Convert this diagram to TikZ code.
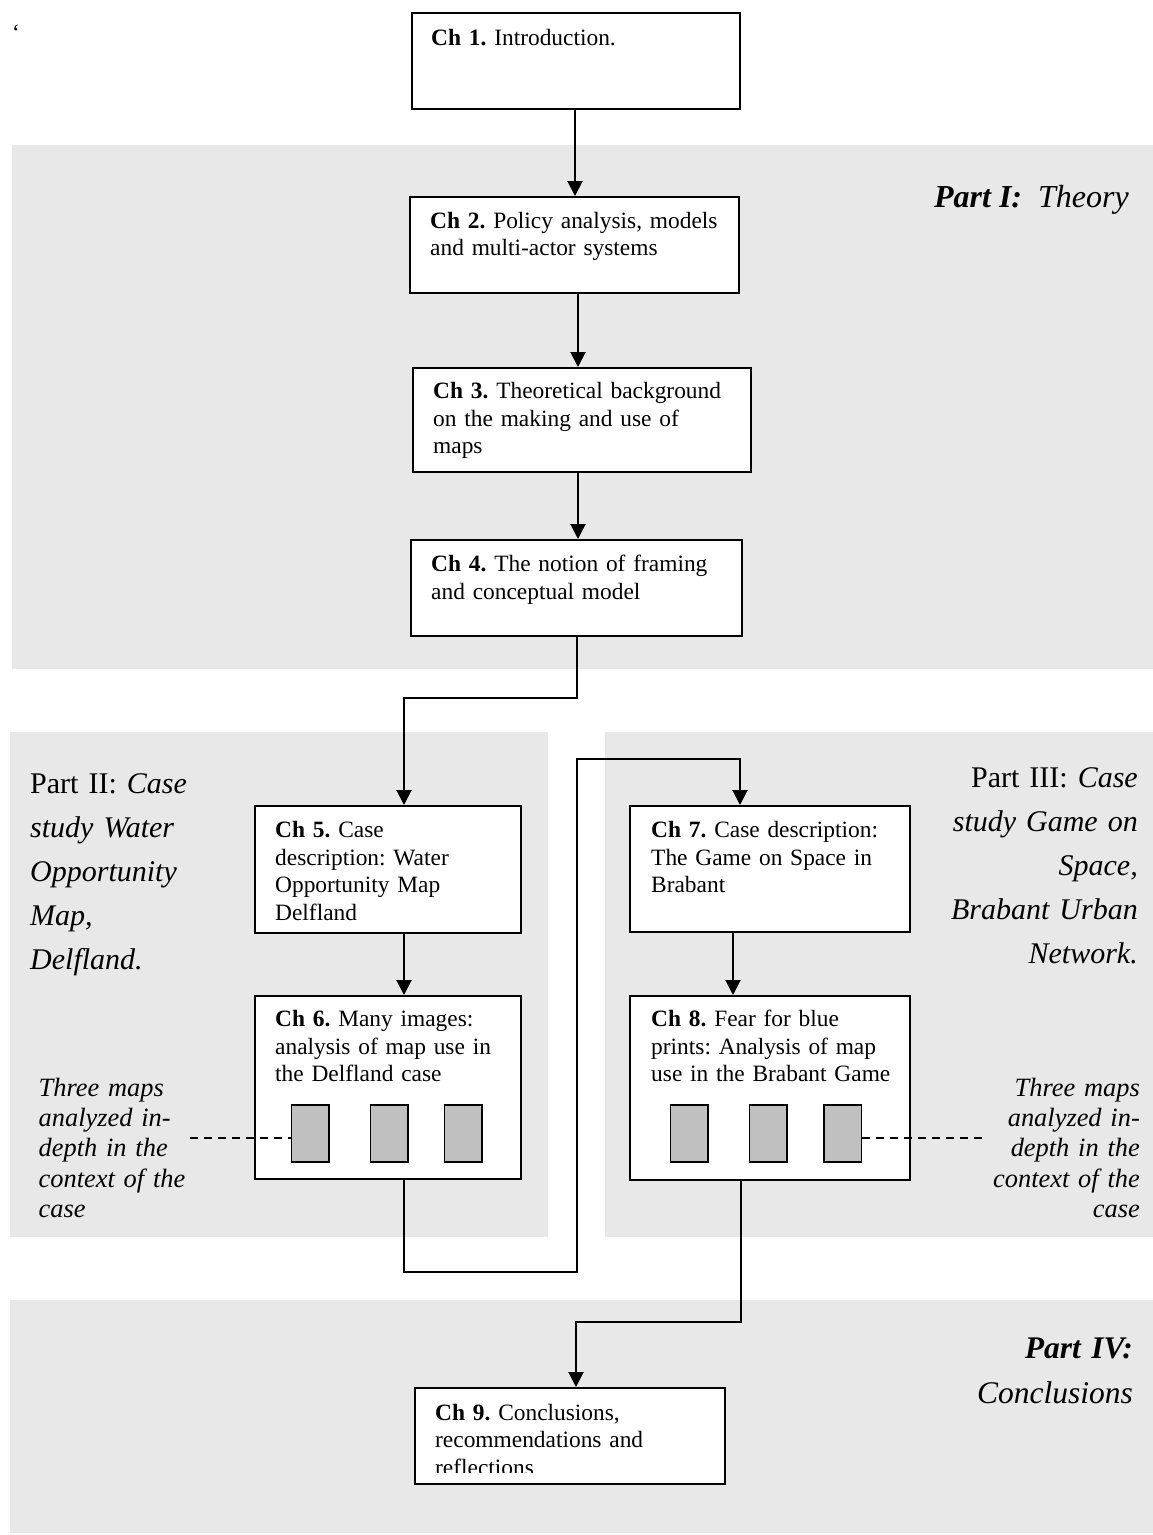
\documentclass[tikz,border=0pt]{standalone}
\usepackage{fontspec}
\setmainfont{Liberation Serif}
\usetikzlibrary{arrows.meta}

\definecolor{bandgrey}{gray}{0.91}
\definecolor{mapgrey}{gray}{0.753}

\newcommand\boxfont{\fontsize{23.4}{27.6}\selectfont\frenchspacing}
\newcommand\partfont{\fontsize{30}{44}\selectfont\frenchspacing}
\newcommand\notefont{\fontsize{26.4}{30.4}\selectfont\frenchspacing}

\tikzset{
  chbox/.style={draw, line width=2pt, fill=white, inner sep=0pt, anchor=north west},
  chtext/.style={inner sep=0pt, anchor=base west, text width=310pt, align=left, font=\boxfont},
  maprect/.style={draw, line width=1.6pt, fill=mapgrey, inner sep=0pt, anchor=north west,
    minimum width=37.5pt, minimum height=57pt},
  conn/.style={line width=2pt, -{Triangle[width=15pt,length=15pt]}},
  dashlink/.style={line width=1.5pt, dash pattern=on 8pt off 6pt},
}

\begin{document}
\begin{tikzpicture}[x=1pt, y=-1pt]
\useasboundingbox (0,0) rectangle (1153,1535);

% shaded part bands
\fill[bandgrey] (12,145) rectangle (1153,669);
\fill[bandgrey] (10,732) rectangle (548,1237);
\fill[bandgrey] (605,732) rectangle (1153,1237);
\fill[bandgrey] (10,1300) rectangle (1153,1533);

% stray mark in the top corner
\node[inner sep=0pt, anchor=base west, font=\boxfont] (tick) at (12,40) {\char"60};

% chapter boxes
\node[chbox, minimum width=328pt, minimum height=96pt]  (ch1) at (411,12) {};
\node[chbox, minimum width=329pt, minimum height=96pt]  (ch2) at (409,196) {};
\node[chbox, minimum width=338pt, minimum height=104pt] (ch3) at (412,367) {};
\node[chbox, minimum width=331pt, minimum height=96pt]  (ch4) at (410,539) {};
\node[chbox, minimum width=266pt, minimum height=127pt] (ch5) at (254,805) {};
\node[chbox, minimum width=266pt, minimum height=183pt] (ch6) at (254,995) {};
\node[chbox, minimum width=280pt, minimum height=126pt] (ch7) at (629,805) {};
\node[chbox, minimum width=280pt, minimum height=184pt] (ch8) at (629,995) {};
\node[chbox, minimum width=310pt, minimum height=96pt]  (ch9) at (414,1387) {};

% chapter texts
\node[chtext] (t1) at (431,45) {\textbf{Ch 1.} Introduction.};
\node[chtext] (t2) at (430,228) {\textbf{Ch 2.} Policy analysis, models\\and multi-actor systems};
\node[chtext] (t3) at (433,398.5) {\textbf{Ch 3.} Theoretical background\\on the making and use of\\maps};
\node[chtext] (t4) at (431,571.5) {\textbf{Ch 4.} The notion of framing\\and conceptual model};
\node[chtext] (t5) at (275,837.5) {\textbf{Ch 5.} Case\\description: Water\\Opportunity Map\\Delfland};
\node[chtext] (t6) at (275,1026.5) {\textbf{Ch 6.} Many images:\\analysis of map use in\\the Delfland case};
\node[chtext] (t7) at (651,837.5) {\textbf{Ch 7.} Case description:\\The Game on Space in\\Brabant};
\node[chtext] (t8) at (651,1026.5) {\textbf{Ch 8.} Fear for blue\\prints: Analysis of map\\use in the Brabant Game};
\begin{scope}
  \clip (414,1387) rectangle (724,1472);
  \node[chtext] (t9) at (435,1420) {\textbf{Ch 9.} Conclusions,\\recommendations and\\reflections};
\end{scope}

% map thumbnails
\node[maprect] (m61) at (290.5,1104) {};
\node[maprect] (m62) at (369.5,1104) {};
\node[maprect] (m63) at (443.5,1104) {};
\node[maprect] (m81) at (669.5,1104) {};
\node[maprect] (m82) at (748.5,1104) {};
\node[maprect] (m83) at (823,1104) {};

% part labels
\node[inner sep=0pt, anchor=base east, font=\fontsize{32}{44}\selectfont] (p1) at (1129,207)
  {\textbf{\textit{Part I:}}\ \ \textit{Theory}};
\node[inner sep=0pt, anchor=base west, text width=200pt, align=left, font=\partfont] (p2) at (30,793)
  {Part II: \textit{Case}\\\textit{study Water}\\\textit{Opportunity}\\\textit{Map,}\\\textit{Delfland.}};
\node[inner sep=0pt, anchor=base east, text width=260pt, align=right, font=\partfont] (p3) at (1138,787)
  {Part III: \textit{Case}\\\textit{study Game on}\\\textit{Space,}\\\textit{Brabant Urban}\\\textit{Network.}};
\node[inner sep=0pt, anchor=base east, text width=260pt, align=right, font=\fontsize{31.5}{45}\selectfont] (p4) at (1133,1358)
  {\textbf{\textit{Part IV:}}\\\textit{Conclusions}};

% side notes on the analysed maps
\node[inner sep=0pt, anchor=base west, text width=170pt, align=left, font=\notefont\itshape] (nl) at (38.5,1096)
  {Three maps\\analyzed in-\\depth in the\\context of the\\case};
\node[inner sep=0pt, anchor=base east, text width=170pt, align=right, font=\notefont\itshape] (nr) at (1140,1096)
  {Three maps\\analyzed in-\\depth in the\\context of the\\case};

\coordinate (dl) at (190,1138);
\coordinate (dr) at (985,1138);
\draw[dashlink] (dl) -- (dl -| m61.west);
\draw[dashlink] (dr -| m83.east) -- (dr);

% connectors
\coordinate (xa) at (575,0);
\coordinate (xb) at (578,0);
\coordinate (xc) at (733,0);
\coordinate (b4a) at (577,698);
\coordinate (b4b) at (404,698);
\coordinate (b6a) at (404,1272);
\coordinate (b6b) at (577,1272);
\coordinate (b6c) at (577,759);
\coordinate (b6d) at (740,759);
\coordinate (b8a) at (741,1322);
\coordinate (b8b) at (576,1322);

\draw[conn] (ch1.south -| xa) -- (ch2.north -| xa);
\draw[conn] (ch2.south -| xb) -- (ch3.north -| xb);
\draw[conn] (ch3.south -| xb) -- (ch4.north -| xb);
\draw[conn] (ch4.south -| b4a) -- (b4a) -- (b4b) -- (ch5.north -| b4b);
\draw[conn] (ch5.south -| b4b) -- (ch6.north -| b4b);
\draw[conn] (ch6.south -| b6a) -- (b6a) -- (b6b) -- (b6c) -- (b6d) -- (ch7.north -| b6d);
\draw[conn] (ch7.south -| xc) -- (ch8.north -| xc);
\draw[conn] (ch8.south -| b8a) -- (b8a) -- (b8b) -- (ch9.north -| b8b);
\end{tikzpicture}
\end{document}
